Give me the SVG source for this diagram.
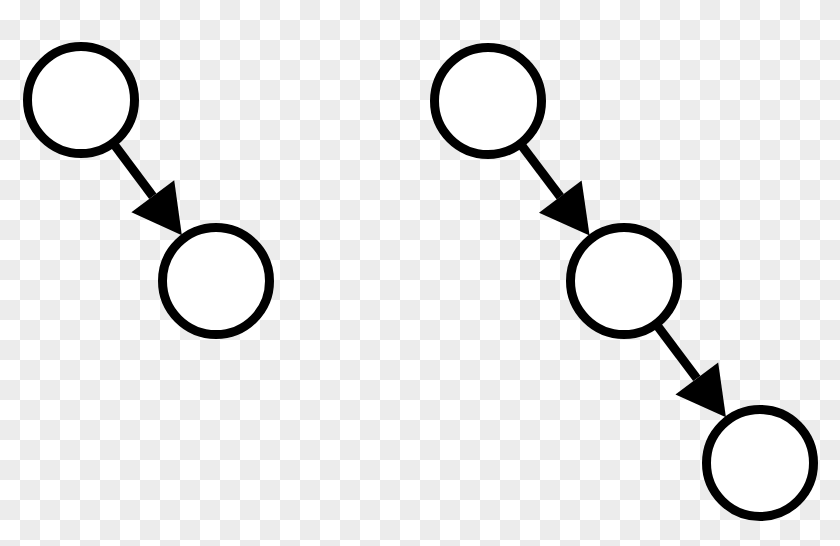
<svg xmlns="http://www.w3.org/2000/svg" width="840" height="546" viewBox="0 0 840 546">
<defs>
<pattern id="checker" x="0" y="0" width="40" height="40" patternUnits="userSpaceOnUse">
<rect x="0" y="0" width="40" height="40" fill="#ffffff"/>
<rect x="20" y="0" width="20" height="20" fill="#ececec"/>
<rect x="0" y="20" width="20" height="20" fill="#ececec"/>
</pattern>
<marker id="arrow" viewBox="0 -27 50 54" refX="0" refY="0" markerWidth="50" markerHeight="54" markerUnits="userSpaceOnUse" orient="auto" overflow="visible">
<path d="M0,-26.7 L48.6,0 L0,26.7 z" fill="#000"/>
</marker>
<style>
.node{fill:#fff;stroke:#000;stroke-width:9}
.edge{stroke:#000;stroke-width:9;fill:none}
</style>
</defs>
<rect width="840" height="546" fill="url(#checker)"/>
<g id="connectors">
<line class="edge" x1="115.1" y1="145.7" x2="152.8" y2="196.3" marker-end="url(#arrow)"/>
<line class="edge" x1="522.4" y1="146.5" x2="560.3" y2="196.7" marker-end="url(#arrow)"/>
<line class="edge" x1="658.1" y1="326.7" x2="696.8" y2="378.4" marker-end="url(#arrow)"/>
</g>
<g id="nodeA"><circle class="node" cx="81" cy="100" r="53.5"/></g>
<g id="nodeB"><circle class="node" cx="216" cy="281" r="53.5"/></g>
<g id="nodeC"><circle class="node" cx="488" cy="101" r="53.5"/></g>
<g id="nodeD"><circle class="node" cx="624" cy="281" r="53.5"/></g>
<g id="nodeE"><circle class="node" cx="760" cy="463" r="53.5"/></g>
</svg>
